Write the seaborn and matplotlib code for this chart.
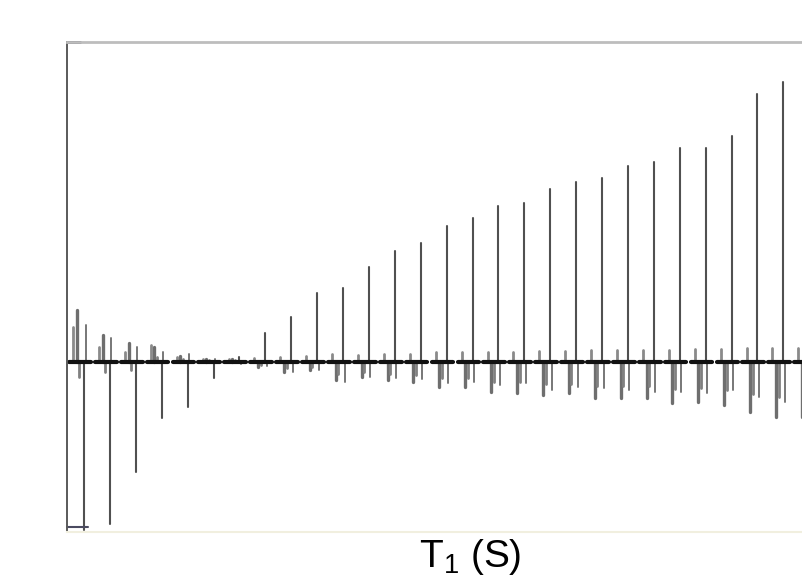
import pandas as pd
import matplotlib
matplotlib.use("Agg")
import matplotlib.pyplot as plt
import seaborn as sns

sns.set_theme(style="white")
plt.rcParams["font.family"] = ["Liberation Sans", "DejaVu Sans"]

# ------------------------------------------------------------------
# Data: one spectrum per T1 delay (index 0..28), intensities in
# arbitrary units (baseline = 0)
# ------------------------------------------------------------------
spectrum_idx = list(range(29))

# main (sharp) resonance
main_h = [-168, -162, -110, -56, -45, -16, 5, 29, 45, 69, 74, 95, 111, 119,
          136, 144, 156, 159, 173, 180, 184, 196, 200, 214, 214, 226, 268,
          280, 295]
# small opposite-phase lobe of the main resonance
lobe_h = [37, 24, 15, 10, 8, 3, -2, -4, -10, -8, -20, -15, -16, -17, -21,
          -20, -23, -21, -28, -25, -26, -28, -30, -30, -31, -28, -35, -40, -40]
# multiplet to the left of the main resonance
mult_a = [52, 27, 19, 15, 6, 3, 3, -5, -10, -8, -18, -15, -18, -20, -25, -25,
          -30, -31, -33, -31, -36, -36, -36, -41, -40, -43, -50, -55, -55]
mult_b = [-15, -10, -8, 5, 3, 2, 2, -3, -6, -5, -12, -10, -12, -13, -16, -16,
          -20, -20, -22, -22, -24, -24, -24, -27, -26, -28, -32, -35, -35]
bump_h = [35, 15, 10, 17, 5, 3, 3, 4, 5, 6, 8, 7, 8, 8, 10, 10, 10, 10, 11,
          11, 12, 12, 12, 12, 13, 13, 14, 14, 14]

# offsets of each feature relative to the main resonance (spectrum units)
OFF_MAIN, OFF_LOBE = 0.0, 0.06
OFF_A, OFF_B, OFF_BUMP = -0.28, -0.18, -0.42
BASE_L, BASE_R = -0.58, 0.26


def spikes(offset, heights):
    rows = []
    for i, h in zip(spectrum_idx, heights):
        rows.append({"seg": i, "x": i + offset, "y": 0.0})
        rows.append({"seg": i, "x": i + offset, "y": h})
    return pd.DataFrame(rows)


baseline = pd.DataFrame(
    [{"seg": i, "x": i + o, "y": 0.0} for i in spectrum_idx for o in (BASE_L, BASE_R)]
)

# ------------------------------------------------------------------
# Figure
# ------------------------------------------------------------------
fig = plt.figure(figsize=(8.02, 5.79), dpi=100)
ax = fig.add_axes([67 / 802, 47 / 579, 735 / 802, 490 / 579])

line_kw = dict(x="x", y="y", units="seg", estimator=None, sort=False,
               legend=False, ax=ax)

sns.lineplot(data=spikes(OFF_BUMP, bump_h), color="#8a8a8a", lw=2.0, **line_kw)
sns.lineplot(data=spikes(OFF_A, mult_a), color="#6e6e6e", lw=2.4, **line_kw)
sns.lineplot(data=spikes(OFF_B, mult_b), color="#808080", lw=2.0, **line_kw)
sns.lineplot(data=spikes(OFF_LOBE, lobe_h), color="#777777", lw=1.4, **line_kw)
sns.lineplot(data=spikes(OFF_MAIN, main_h), color="#505050", lw=1.5, **line_kw)
sns.lineplot(data=baseline, color="#111111", lw=3.0, **line_kw)

ax.set_xlim(-0.656, 27.72)
ax.set_ylim(-170, 320)
ax.set_xticks([])
ax.set_yticks([])
ax.set_xlabel("")
ax.set_ylabel("")

ax.spines["right"].set_visible(False)
ax.spines["top"].set_color("#bdbdbd")
ax.spines["top"].set_linewidth(2.0)
ax.spines["left"].set_color("#5a5a5a")
ax.spines["left"].set_linewidth(1.4)
ax.spines["bottom"].set_color("#f1efdf")
ax.spines["bottom"].set_linewidth(1.5)

# bracket ends on the intensity scale bar
ax.plot([0, 0.018], [1, 1], transform=ax.transAxes, color="#2a2a40",
        lw=2.0, clip_on=False)
ax.plot([0, 0.028], [0.01, 0.01], transform=ax.transAxes, color="#4a4a60",
        lw=1.5, clip_on=False)

fig.text(470 / 802, 12 / 579, r"$\mathregular{T_1}$ (S)", ha="center",
         va="baseline", fontsize=28, color="black")

fig.savefig("out.png", dpi=100)
